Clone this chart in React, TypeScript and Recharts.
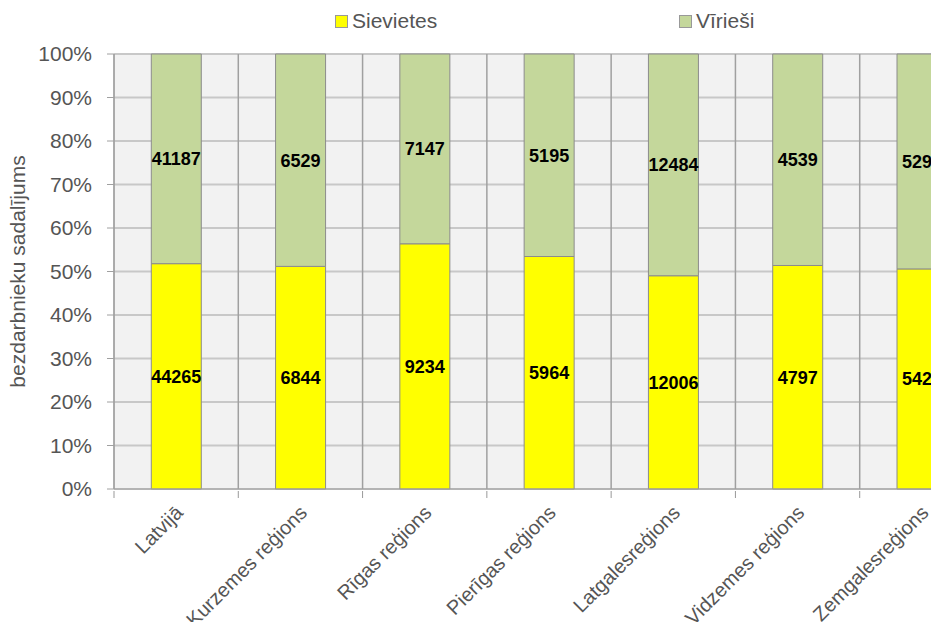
import { BarChart, Bar, XAxis, YAxis, CartesianGrid, Legend, LabelList, Label } from 'recharts'

const regions = [
  'Latvijā',
  'Kurzemes reģions',
  'Rīgas reģions',
  'Pierīgas reģions',
  'Latgalesreģions',
  'Vidzemes reģions',
  'Zemgalesreģions',
]
const sievietes = [44265, 6844, 9234, 5964, 12006, 4797, 5420]
const virriesi = [41187, 6529, 7147, 5195, 12484, 4539, 5293]
const yTicks = [0, 0.1, 0.2, 0.3, 0.4, 0.5, 0.6, 0.7, 0.8, 0.9, 1]

const data = regions.map((name, i) => ({ name, f: sievietes[i], m: virriesi[i] }))

const CHART_W = 1000
const CHART_H = 630
const Y_W = 114
const RIGHT = 16
const BAND = (CHART_W - Y_W - RIGHT) / regions.length

const FONT = '"Liberation Sans", Arial, sans-serif'
const GREY_TEXT = '#555'

function XTick({ x, y, payload }: any) {
  return (
    <g transform={`translate(${x},${y})`}>
      <line x1={-BAND / 2} x2={-BAND / 2} y1={0} y2={7} stroke="#999" />
      <text
        x={0}
        y={0}
        transform="translate(8,23) rotate(-45)"
        textAnchor="end"
        fontSize={20}
        fill={GREY_TEXT}
      >
        {payload.value}
      </text>
    </g>
  )
}

function renderLegend() {
  const items = [
    { label: 'Sievietes', color: '#ffff00', left: 335 },
    { label: 'Vīrieši', color: '#c4d79b', left: 679 },
  ]
  return (
    <div style={{ position: 'relative', height: 54 }}>
      {items.map((it) => (
        <div
          key={it.label}
          style={{ position: 'absolute', left: it.left, top: 9, display: 'flex', alignItems: 'center' }}
        >
          <span
            style={{
              display: 'inline-block', width: 11, height: 11,
              background: it.color, border: '1px solid #999',
            }}
          />
          <span style={{ marginLeft: 4, fontSize: 21, color: GREY_TEXT, fontFamily: FONT }}>{it.label}</span>
        </div>
      ))}
    </div>
  )
}

function YTitle({ viewBox }: any) {
  const cy = viewBox ? viewBox.y + viewBox.height / 2 : 271
  return (
    <text
      x={25}
      y={cy}
      transform={`rotate(-90, 25, ${cy})`}
      textAnchor="middle"
      fontSize={21}
      fill={GREY_TEXT}
    >
      bezdarbnieku sadalījums
    </text>
  )
}

export default function App() {
  return (
    <div style={{ margin: -8, width: 939, height: 630, overflow: 'hidden', position: 'relative', fontFamily: FONT, background: '#fff' }}>
      <BarChart
        width={CHART_W}
        height={CHART_H}
        data={data}
        stackOffset="expand"
        barCategoryGap="30%"
        margin={{ top: 0, right: RIGHT, left: 0, bottom: 0 }}
      >
        <CartesianGrid
          fill="#f2f2f2"
          stroke="#c8c8c8"
          strokeWidth={2}
          vertical={false}
        />
        <CartesianGrid
          stroke="#a0a0a0"
          strokeWidth={1.5}
          horizontal={false}
          verticalCoordinatesGenerator={({ offset }: any) =>
            regions.map((_, i) => offset.left + (i * offset.width) / regions.length).concat(offset.left + offset.width)
          }
        />
        <Legend verticalAlign="top" height={54} content={renderLegend} wrapperStyle={{ top: 0, left: 0, width: 939 }} />
        <XAxis
          dataKey="name"
          height={141}
          interval={0}
          tickLine={false}
          tickSize={0}
          axisLine={{ stroke: '#a0a0a0' }}
          tick={<XTick />}
        />
        <YAxis
          width={Y_W}
          domain={[0, 1]}
          ticks={yTicks}
          tickFormatter={(v: number) => `${Math.round(v * 100)}%`}
          tick={{ fontSize: 21, fill: GREY_TEXT }}
          tickSize={7}
          tickMargin={15}
          tickLine={{ stroke: '#a0a0a0' }}
          axisLine={{ stroke: '#a0a0a0' }}
        >
          <Label content={<YTitle />} />
        </YAxis>
        <Bar dataKey="f" stackId="a" fill="#ffff00" stroke="#8c8c8c" isAnimationActive={false}>
          <LabelList dataKey="f" position="center" fill="#000" fontSize={18} fontWeight="bold" />
        </Bar>
        <Bar dataKey="m" stackId="a" fill="#c4d79b" stroke="#8c8c8c" isAnimationActive={false}>
          <LabelList dataKey="m" position="center" fill="#000" fontSize={18} fontWeight="bold" />
        </Bar>
      </BarChart>
    </div>
  )
}
